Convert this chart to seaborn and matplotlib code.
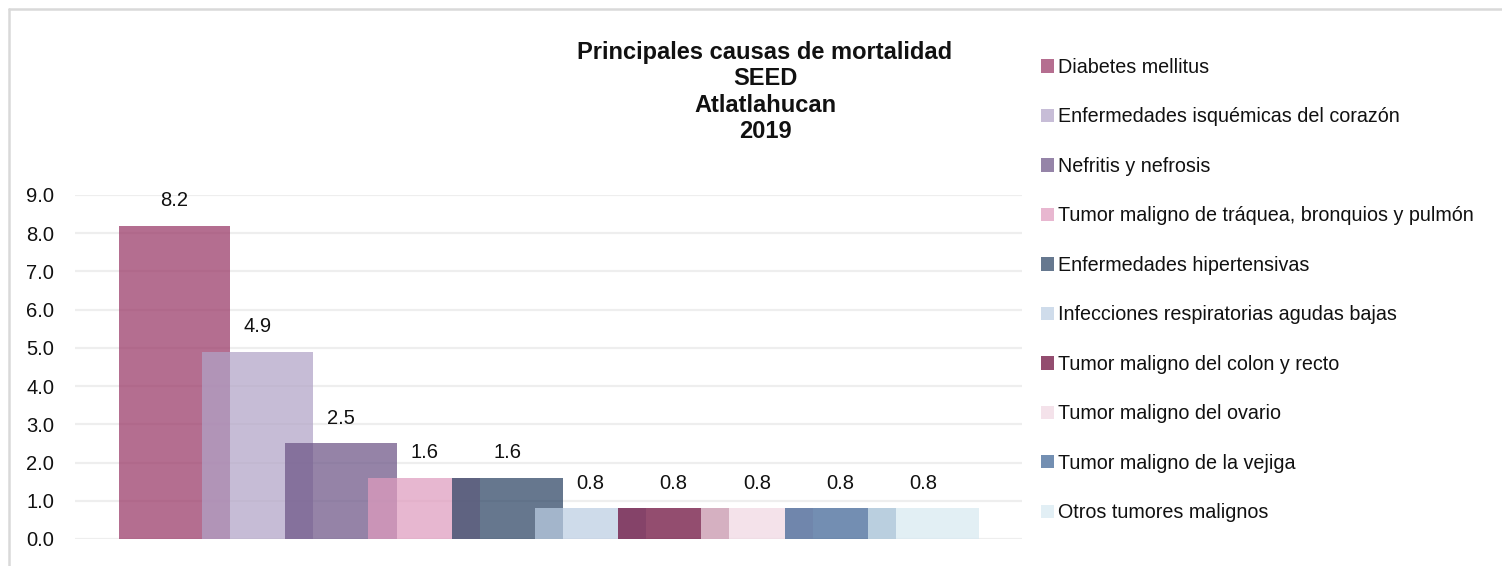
import numpy as np
import pandas as pd
import seaborn as sns
import matplotlib
matplotlib.use("Agg")
import matplotlib.pyplot as plt
from matplotlib.patches import Patch
from matplotlib.lines import Line2D
from matplotlib import font_manager

# ---- data ----
causes = [
    "Diabetes mellitus",
    "Enfermedades isquémicas del corazón",
    "Nefritis y nefrosis",
    "Tumor maligno de tráquea, bronquios y pulmón",
    "Enfermedades hipertensivas",
    "Infecciones respiratorias agudas bajas",
    "Tumor maligno del colon y recto",
    "Tumor maligno del ovario",
    "Tumor maligno de la vejiga",
    "Otros tumores malignos",
]
rates = [8.2, 4.9, 2.5, 1.6, 1.6, 0.8, 0.8, 0.8, 0.8, 0.8]
yticks = [0, 1, 2, 3, 4, 5, 6, 7, 8, 9]
title_lines = ["Principales causas de mortalidad", "SEED", "Atlatlahucan", "2019"]

# ---- style ----
seen_colors = ["#B56E90", "#C7BDD7", "#9584A8", "#E8B7D0", "#66788F",
               "#CFDCEB", "#934D6F", "#F4E2EA", "#738FB2", "#E2EFF5"]
ALPHA = 0.72
base_colors = []
for h in seen_colors:
    rgb = np.array(matplotlib.colors.to_rgb(h))
    base = np.clip((rgb - (1 - ALPHA)) / ALPHA, 0, 1)
    base_colors.append(tuple(base))

sns.set_theme(style="white")
avail = {f.name for f in font_manager.fontManager.ttflist}
fam = [f for f in ["Liberation Sans Narrow", "Liberation Sans", "DejaVu Sans"] if f in avail]
plt.rcParams["font.family"] = fam

W, H = 1502, 566
fig = plt.figure(figsize=(W / 100, H / 100), dpi=100)
left_px, right_px, y0_px, y9_px = 75, 1022, 539, 195
ax = fig.add_axes([left_px / W, 1 - y0_px / H, (right_px - left_px) / W, (y0_px - y9_px) / H])

df = pd.DataFrame({"cause": causes, "rate": rates})
sns.barplot(data=df, x="cause", y="rate", hue="cause", order=causes, hue_order=causes,
            palette=base_colors, width=1.337, alpha=ALPHA, legend=False,
            linewidth=0, saturation=1, ax=ax, zorder=3)

ax.set_xlim(-1.196, 10.186)
ax.set_ylim(0, 9)
ax.set_yticks(yticks)
ax.set_yticklabels([f"{v:.1f}" for v in yticks], fontsize=14.5, color="#111111")
ax.tick_params(axis="y", length=0, pad=15)
ax.set_xticks([])
ax.set_xlabel("")
ax.set_ylabel("")
for s in ax.spines.values():
    s.set_visible(False)
ax.grid(axis="y", color="#EEEEEE", linewidth=1.6, zorder=0)
ax.set_axisbelow(True)

for i, v in enumerate(rates):
    ax.annotate(f"{v:.1f}", (i, v), xytext=(0, 14), textcoords="offset points",
                ha="center", va="baseline", fontsize=14.5, color="#111111",
                annotation_clip=False)

# title
fig.text(765 / W, 1 - 41 / H, "\n".join(title_lines), ha="center", va="top",
         fontsize=17, fontweight="bold", linespacing=1.19, color="#111111")

# legend
handles = [Patch(facecolor=c, edgecolor="none") for c in seen_colors]
fig.legend(handles, causes, loc="upper left", bbox_to_anchor=(1041 / W, 1 - 58 / H),
           frameon=False, fontsize=14.2, handlelength=0.66, handleheight=0.66,
           handletextpad=0.2, labelspacing=1.545, borderaxespad=0, borderpad=0,
           labelcolor="#111111")

# outer frame lines (chart area border)
fig.add_artist(Line2D([9 / W, 1.0], [1 - 9 / H, 1 - 9 / H], color="#D9D9D9", lw=1.8,
                      transform=fig.transFigure))
fig.add_artist(Line2D([9 / W, 9 / W], [0.0, 1 - 9 / H], color="#D9D9D9", lw=1.8,
                      transform=fig.transFigure))

fig.savefig("out.png", dpi=100, facecolor="white")
